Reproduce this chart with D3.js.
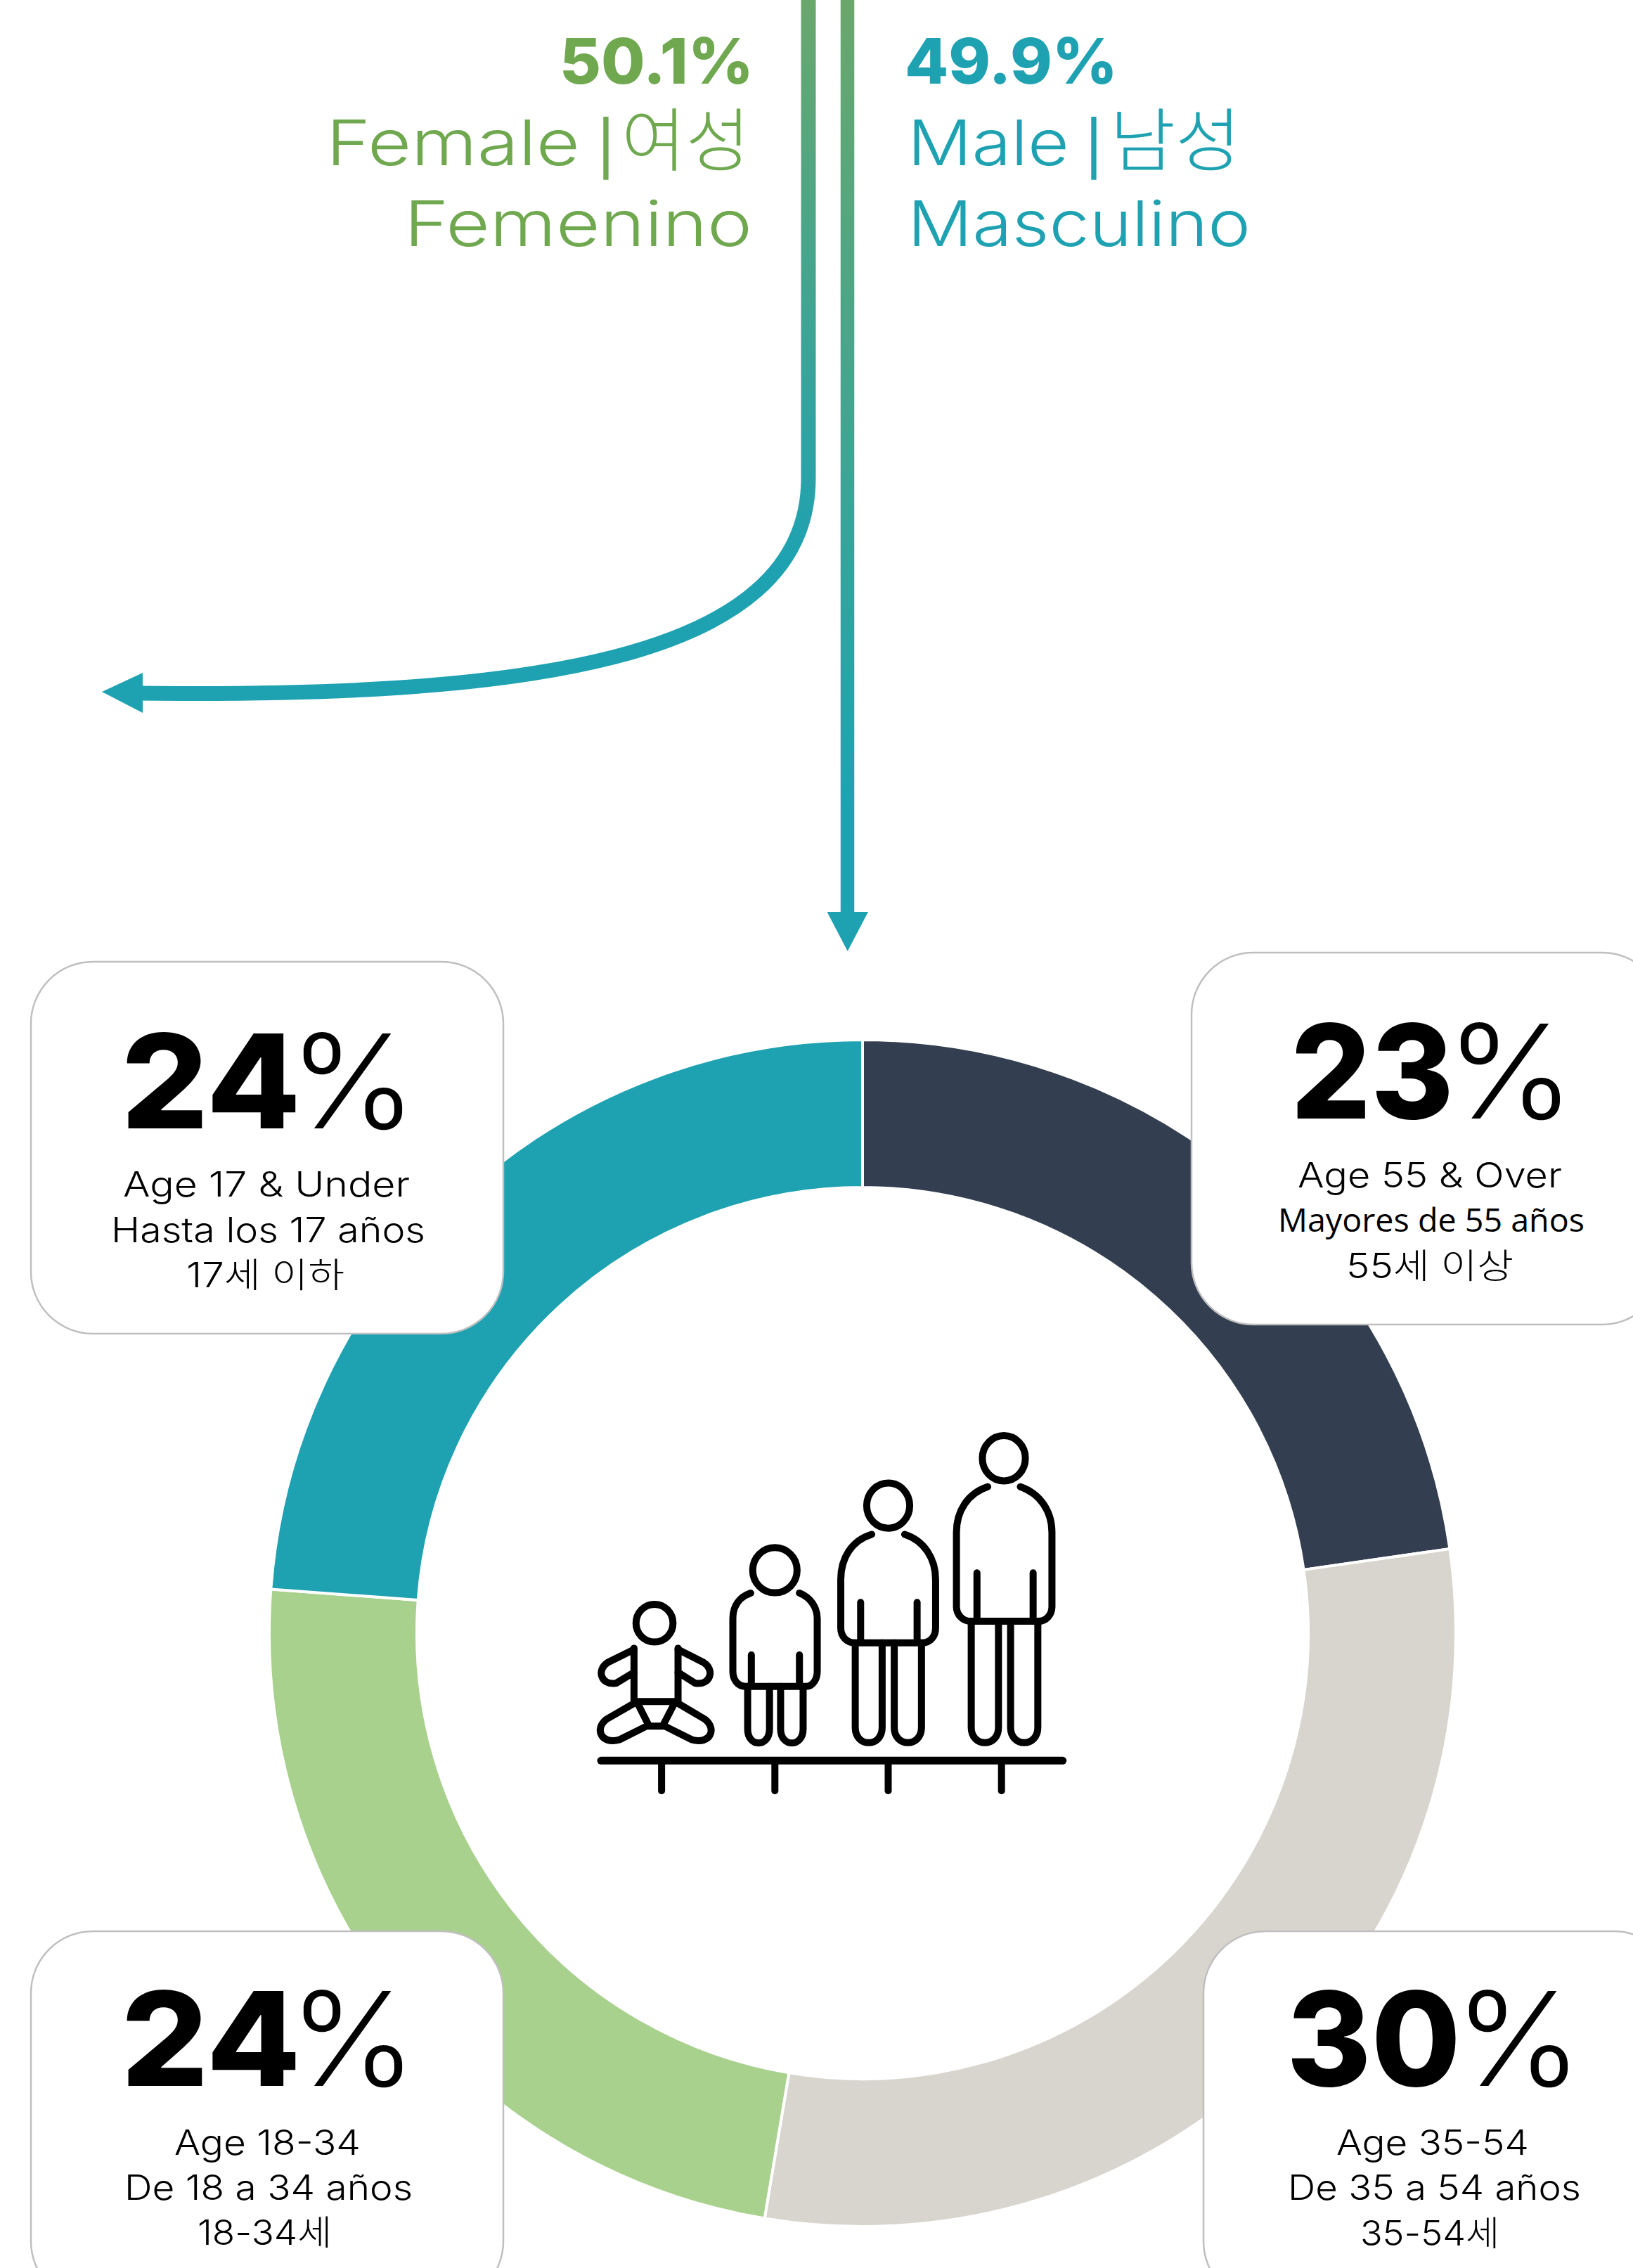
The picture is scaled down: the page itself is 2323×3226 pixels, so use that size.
<!DOCTYPE html>
<html>
<head>
<meta charset="utf-8">
<script src="https://cdn.jsdelivr.net/npm/d3@7"></script>
<style>
  html, body { margin: 0; padding: 0; background: #fff; overflow: hidden; }
  text { font-family: Inter, "Noto Sans CJK KR", sans-serif; }
</style>
</head>
<body>
<div id="vis"></div>
<script>
var width = 2323,
    height = 3226;

// ring slices, clockwise from the top
var groups = ["55+", "35-54", "18-34", "0-17"];
var sliceShares = [22.73, 29.91, 23.54, 23.82];
var sliceColors = ["#333f50", "#d8d5ce", "#a9d18e", "#1ea2b2"];

var printedPct = ["23", "30", "24", "24"];
var englishLabels = ["Age 55 & Over", "Age 35-54", "Age 18-34", "Age 17 & Under"];
var spanishLabels = ["Mayores de 55 años", "De 35 a 54 años", "De 18 a 34 años", "Hasta los 17 años"];
var koreanLabels = ["55세 이상", "35-54세", "18-34세", "17세 이하"];

var genderPct = ["50.1%", "49.9%"];
var genderEnglish = ["Female", "Male"];
var genderKorean = ["여성", "남성"];
var genderSpanish = ["Femenino", "Masculino"];

var green = "#6fa84f",
    teal = "#1ea2b2";

// [x, width, baseline] of each text piece
var cards = [
    { x: 1695, y: 1355, num: [1842, 220, 1591], pct: [2076, 145, 1591], lines: [[1849, 370, 1689], [1821, 430, 1752], [1918, 232, 1818]] },
    { x: 1712, y: 2747, num: [1836, 236, 2967], pct: [2088, 144, 2967], lines: [[1904, 268, 3065], [1835, 411, 3129], [1938, 192, 3194]] },
    { x: 44, y: 2747, num: [178, 244, 2967], pct: [430, 144, 2967], lines: [[251, 259, 3065], [180, 404, 3129], [284, 185, 3193]] },
    { x: 44, y: 1368, num: [178, 244, 1605], pct: [430, 144, 1605], lines: [[178, 402, 1702], [161, 441, 1767], [268, 219, 1831]] }
];

var genderBoxes = [
    { pct: [796, 276], en: [464, 361], bar: 862, ko: [884, 183], es: [575, 495] },
    { pct: [1287, 303], en: [1291, 230], bar: 1556, ko: [1579, 186], es: [1291, 488] }
];

var svg = d3.select("#vis").append("svg")
    .attr("width", width)
    .attr("height", height)
    .attr("viewBox", [0, 0, width, height])
    .style("display", "block");

var defs = svg.append("defs");

function fade(id, y2) {
    var g = defs.append("linearGradient")
        .attr("id", id)
        .attr("gradientUnits", "userSpaceOnUse")
        .attr("x1", 0).attr("x2", 0)
        .attr("y1", 0).attr("y2", y2);
    g.append("stop").attr("offset", 0).attr("stop-color", "#6aa76c");
    g.append("stop").attr("offset", 1).attr("stop-color", teal);
    return "url(#" + id + ")";
}

// ---- flow lines
svg.append("path")
    .attr("fill", "none")
    .attr("stroke", fade("fadeLeft", 800))
    .attr("stroke-width", 21)
    .attr("d", "M1150,0 V680 C1150,945 730,992 195,986");

svg.append("path")
    .attr("fill", teal)
    .attr("d", "M145,984 L203,957 L203,1014 Z");

svg.append("path")
    .attr("fill", "none")
    .attr("stroke", fade("fadeRight", 1150))
    .attr("stroke-width", 19.5)
    .attr("d", "M1205.5,0 V1300");

svg.append("path")
    .attr("fill", teal)
    .attr("d", "M1176.5,1297 H1235 L1205.7,1353 Z");

// ---- text helper, squeezes a string onto the measured width
function fitted(parent, s, box, y, size, weight, fill, pad) {
    pad = pad || 0;
    return parent.append("text")
        .attr("x", box[0] - pad)
        .attr("y", y)
        .attr("textLength", box[1] + 2 * pad)
        .attr("lengthAdjust", "spacingAndGlyphs")
        .attr("font-size", size)
        .attr("font-weight", weight)
        .attr("fill", fill)
        .text(s);
}

genderPct.forEach(function (p, i) {
    var c = i === 0 ? green : teal, b = genderBoxes[i];
    fitted(svg, p, b.pct, 119, 90, 800, c);
    fitted(svg, genderEnglish[i], b.en, 235, 90, 300, c);
    svg.append("text")
        .attr("x", b.bar).attr("y", 238)
        .attr("text-anchor", "middle")
        .attr("font-size", 75)
        .attr("font-weight", 500)
        .attr("fill", c)
        .text("|");
    fitted(svg, genderKorean[i], b.ko, 235, 98, 300, c);
    fitted(svg, genderSpanish[i], b.es, 350, 90, 300, c);
});

// ---- ring
var pie = d3.pie().sort(null).value(function (d) { return d; });
var arc = d3.arc().innerRadius(634).outerRadius(844);

svg.append("g")
    .attr("transform", "translate(1227,2323)")
    .selectAll("path")
    .data(pie(sliceShares))
    .join("path")
    .attr("d", arc)
    .attr("fill", function (d, i) { return sliceColors[i]; })
    .attr("stroke", "#fff")
    .attr("stroke-width", 4);

// ---- cards
cards.forEach(function (c, i) {
    var g = svg.append("g");

    g.append("rect")
        .attr("x", c.x).attr("y", c.y)
        .attr("width", 672).attr("height", 529)
        .attr("rx", 88).attr("ry", 88)
        .attr("fill", "#fff")
        .attr("stroke", "#bfbfbf")
        .attr("stroke-width", 2.5);

    fitted(g, printedPct[i], c.num, c.num[2], 186, 800, "#000", 6);
    fitted(g, "%", c.pct, c.pct[2], 186, 300, "#000", 19);

    [englishLabels[i], spanishLabels[i], koreanLabels[i]].forEach(function (t, j) {
        var line = fitted(g, t, c.lines[j], c.lines[j][2], 49, 300, "#000", 3);
        if (t === "Mayores de 55 años") line.style("font-family", "'Open Sans'").attr("font-size", 46).attr("font-weight", 400);
    });
});

// ---- people icon, traced in a 1568 box and squeezed onto the page
var icon = svg.append("g")
    .attr("transform", "translate(800,2000) scale(" + (750 / 1568) + "," + (600 / 1568) + ")")
    .attr("fill", "none")
    .attr("stroke", "#000")
    .attr("stroke-linecap", "round");

var iconPaths = [
    "M295,1318 V1430", "M632,1318 V1430", "M969,1318 V1430", "M1306,1318 V1430",
    // tall adult
    "M1265,300 C1205,325 1172,390 1172,470 V745 C1172,775 1190,800 1215,800 H1415 C1440,800 1456,775 1456,745 V470 C1456,390 1420,325 1362,300",
    "M1233,620 V790", "M1400,620 V790",
    "M1216,800 V1195 C1216,1270 1297,1270 1297,1195 V800",
    "M1333,800 V1195 C1333,1270 1414,1270 1414,1195 V800",
    // adult
    "M920,477 C860,500 828,565 828,645 V825 C828,855 845,880 870,880 H1070 C1095,880 1110,855 1110,825 V645 C1110,565 1075,500 1018,477",
    "M887,730 V870", "M1055,730 V870",
    "M871,880 V1195 C871,1270 951,1270 951,1195 V880",
    "M987,880 V1195 C987,1270 1068,1270 1068,1195 V880",
    // child
    "M560,695 C525,710 507,745 507,790 V985 C507,1015 520,1042 545,1042 H725 C745,1042 758,1015 758,985 V790 C758,745 735,710 705,695",
    "M562,925 V1030", "M705,925 V1030",
    "M551,1042 V1200 C551,1270 616,1270 616,1200 V1042",
    "M649,1042 V1200 C649,1270 716,1270 716,1200 V1042",
    // baby
    "M213,900 V1098 H344 V900",
    "M213,905 L135,953 C100,980 115,1040 160,1030 L213,990",
    "M344,905 L420,953 C455,980 440,1040 395,1030 L344,990",
    "M213,1105 L130,1165 C95,1200 115,1260 170,1240 L250,1190",
    "M344,1105 L425,1165 C460,1200 440,1260 385,1240 L305,1190",
    "M225,1108 L258,1190 H298 L332,1108"
];

icon.selectAll("path")
    .data(iconPaths)
    .join("path")
    .attr("d", function (d) { return d; })
    .attr("vector-effect", "non-scaling-stroke")
    .attr("stroke-width", 10);

icon.append("path")
    .attr("d", "M115,1318 H1488")
    .attr("vector-effect", "non-scaling-stroke")
    .attr("stroke-width", 11);

[[274, 807, 55, 70], [632, 610, 66, 84], [969, 370, 64, 84], [1313, 194, 64, 84]].forEach(function (h) {
    icon.append("ellipse")
        .attr("cx", h[0]).attr("cy", h[1]).attr("rx", h[2]).attr("ry", h[3])
        .attr("vector-effect", "non-scaling-stroke")
        .attr("stroke-width", 10);
});
</script>
</body>
</html>
